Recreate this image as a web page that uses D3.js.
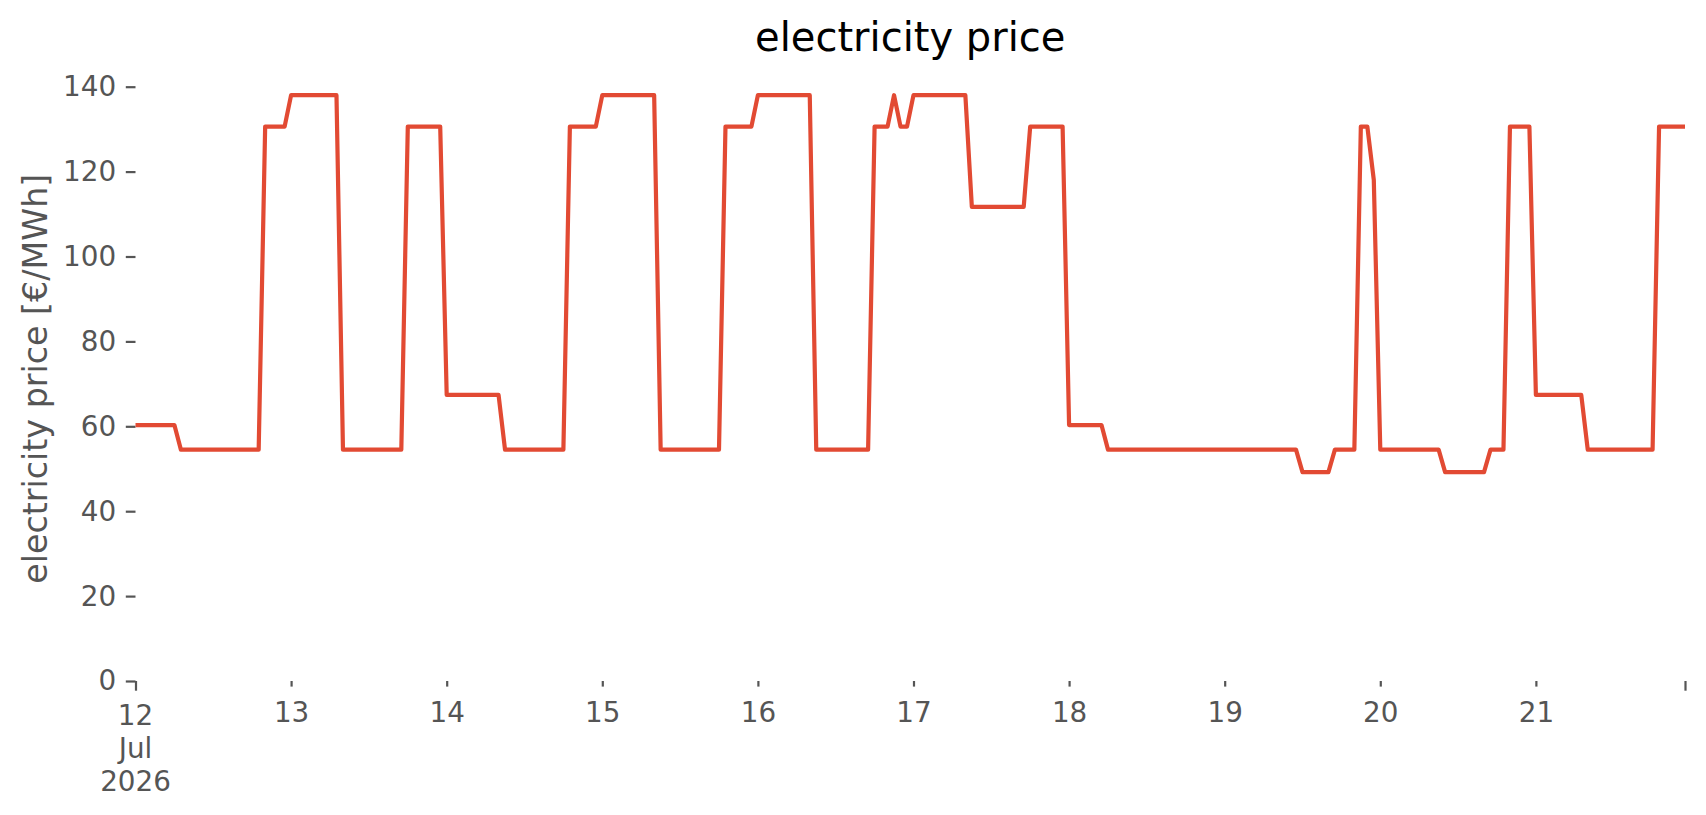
<!DOCTYPE html>
<html>
<head>
<meta charset="utf-8">
<script src="https://cdn.jsdelivr.net/npm/d3@7"></script>
<style>
  html, body { margin: 0; padding: 0; background: #ffffff; }
  svg { display: block; font-family: "DejaVu Sans", sans-serif; }
</style>
</head>
<body>
<script>
// ---- data (hourly electricity price, €/MWh) ----
const startDate = "2026-07-12T00:00:00Z";
const day12 = [60.3,60.3,60.3,60.3,60.3,60.3,60.3,54.5,54.5,54.5,54.5,54.5,54.5,54.5,54.5,54.5,54.5,54.5,54.5,54.5,130.6,130.6,130.6,130.6];
const day13 = [138,138,138,138,138,138,138,138,54.5,54.5,54.5,54.5,54.5,54.5,54.5,54.5,54.5,54.5,130.6,130.6,130.6,130.6,130.6,130.6];
const day14 = [67.4,67.4,67.4,67.4,67.4,67.4,67.4,67.4,67.4,54.5,54.5,54.5,54.5,54.5,54.5,54.5,54.5,54.5,54.5,130.6,130.6,130.6,130.6,130.6];
const day15 = [138,138,138,138,138,138,138,138,138,54.5,54.5,54.5,54.5,54.5,54.5,54.5,54.5,54.5,54.5,130.6,130.6,130.6,130.6,130.6];
const day16 = [138,138,138,138,138,138,138,138,138,54.5,54.5,54.5,54.5,54.5,54.5,54.5,54.5,54.5,130.6,130.6,130.6,138,130.6,130.6];
const day17 = [138,138,138,138,138,138,138,138,138,111.7,111.7,111.7,111.7,111.7,111.7,111.7,111.7,111.7,130.6,130.6,130.6,130.6,130.6,130.6];
const day18 = [60.3,60.3,60.3,60.3,60.3,60.3,54.5,54.5,54.5,54.5,54.5,54.5,54.5,54.5,54.5,54.5,54.5,54.5,54.5,54.5,54.5,54.5,54.5,54.5];
const day19 = [54.5,54.5,54.5,54.5,54.5,54.5,54.5,54.5,54.5,54.5,54.5,54.5,49.2,49.2,49.2,49.2,49.2,54.5,54.5,54.5,54.5,130.6,130.6,118.0];
const day20 = [54.5,54.5,54.5,54.5,54.5,54.5,54.5,54.5,54.5,54.5,49.2,49.2,49.2,49.2,49.2,49.2,49.2,54.5,54.5,54.5,130.6,130.6,130.6,130.6];
const day21 = [67.4,67.4,67.4,67.4,67.4,67.4,67.4,67.4,54.5,54.5,54.5,54.5,54.5,54.5,54.5,54.5,54.5,54.5,54.5,130.6,130.6,130.6,130.6,130.6];
const yTicks = [0, 20, 40, 60, 80, 100, 120, 140];
const dayTickLabels = ["13","14","15","16","17","18","19","20","21"];
const firstTickLabel = ["12", "Jul", "2026"];
const titleText = "electricity price";
const yLabelText = "electricity price [€/MWh]";

const prices = [].concat(day12, day13, day14, day15, day16, day17, day18, day19, day20, day21);
const t0 = new Date(startDate);
const series = prices.map((v, i) => ({ t: new Date(t0.getTime() + i * 3600 * 1000), v }));

// ---- layout ----
const W = 1706, H = 815;
const x0 = 135.5, x1 = 1685;
const yBottom = 681;
const yMax = 142.4;
const yTop = yBottom - yMax * 4.245;
const tickColor = "#555555";

const svg = d3.select("body").append("svg").attr("width", W).attr("height", H);

const x = d3.scaleUtc().domain([series[0].t, series[series.length - 1].t]).range([x0, x1]);
const y = d3.scaleLinear().domain([0, yMax]).range([yBottom, yTop]);

// title
svg.append("text").attr("x", (x0 + x1) / 2).attr("y", 50.5)
  .attr("text-anchor", "middle").attr("font-size", 40).attr("fill", "#000")
  .text(titleText);

// y label
svg.append("text")
  .attr("transform", `translate(47,${(yBottom + yTop) / 2}) rotate(-90)`)
  .attr("text-anchor", "middle").attr("font-size", 33.3).attr("fill", tickColor)
  .text(yLabelText);

// y axis
const yAxis = d3.axisLeft(y).tickValues(yTicks).tickSize(9.7).tickPadding(9.7).tickFormat(d3.format("d"));
const gy = svg.append("g").attr("transform", `translate(${x0},0)`).call(yAxis);
gy.select(".domain").remove();
gy.selectAll(".tick line").attr("stroke", tickColor).attr("stroke-width", 2.2);
gy.selectAll(".tick text").attr("fill", tickColor).attr("font-size", 27.8)
  .attr("font-family", "DejaVu Sans, sans-serif");

// x axis: minor day ticks with labels
const dayDates = dayTickLabels.map((lab, i) => new Date(t0.getTime() + (i + 1) * 86400000));
const xMinor = d3.axisBottom(x).tickValues(dayDates).tickSize(5.6).tickPadding(15.5)
  .tickFormat((d, i) => dayTickLabels[i]);
const gxm = svg.append("g").attr("transform", `translate(0,${yBottom})`).call(xMinor);
gxm.select(".domain").remove();
gxm.selectAll(".tick line").attr("stroke", tickColor).attr("stroke-width", 2.2);
gxm.selectAll(".tick text").attr("fill", tickColor).attr("font-size", 27.8)
  .attr("font-family", "DejaVu Sans, sans-serif");

// x axis: major ticks at the ends
const xMajor = d3.axisBottom(x).tickValues([series[0].t, series[series.length - 1].t]).tickSize(9.7).tickFormat("");
const gxM = svg.append("g").attr("transform", `translate(0,${yBottom})`).call(xMajor);
gxM.select(".domain").remove();
gxM.selectAll(".tick line").attr("stroke", tickColor).attr("stroke-width", 2.2);

// first multi-line label
const fl = svg.append("text").attr("text-anchor", "middle").attr("font-size", 27.8).attr("fill", tickColor);
firstTickLabel.forEach((s, i) => {
  fl.append("tspan").attr("x", x(series[0].t)).attr("y", 724.5 + i * 33.4).text(s);
});

// line
const line = d3.line().x(d => x(d.t)).y(d => y(d.v));
svg.append("path").datum(series)
  .attr("d", line).attr("fill", "none")
  .attr("stroke", "#E24A33").attr("stroke-width", 4.2)
  .attr("stroke-linejoin", "round").attr("stroke-linecap", "butt");
</script>
</body>
</html>
